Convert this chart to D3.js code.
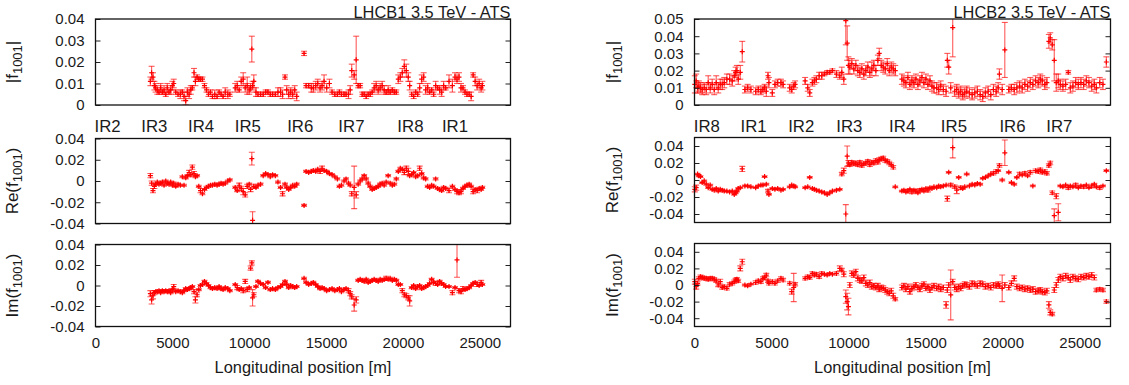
<!DOCTYPE html>
<html><head><meta charset="utf-8">
<script src="https://cdn.jsdelivr.net/npm/d3@7"></script>
<style>
body{margin:0;background:#fff}
svg{display:block}
text{font-family:"Liberation Sans",Arial,Helvetica,sans-serif;fill:#1a1a1a}
</style>
</head><body>
<svg id="chart" width="1129" height="385"></svg>
<script>
// ---------------- DATA ----------------
// Values and errors are in units of 1e-3; positions in metres.
const UNIT = 1e-3;

const b1_s = [
3570,3650,3740,3830,3910,4020,4130,4240,4350,4460,
4570,4670,4780,4890,5000,5090,5220,5370,5520,5650,
5760,5870,5980,6090,6200,6300,6410,6500,6610,6720,
6830,6960,7090,7220,7350,7480,7610,7760,7910,8040,
8170,8300,8440,8610,8740,9090,9220,9350,9480,9610,
9740,9870,10000,10090,10170,10220,10300,10440,10570,10740,
10910,11070,11220,11370,11520,11700,11870,12040,12170,12330,
12440,12570,12700,12830,12960,13090,13570,13700,13870,14040,
14170,14330,14460,14610,14740,14870,15040,15220,15390,15570,
15740,15870,16000,16170,16300,16460,16570,16670,16830,16960,
17090,17220,17350,17480,17610,17740,17870,18000,18130,18260,
18390,18520,18650,18780,18910,19040,19170,19310,19440,19570,
19700,19830,19960,20090,20220,20350,20440,20570,20700,20830,
20960,21090,21220,21350,21480,21610,21740,21870,22000,22130,
22260,22390,22520,22650,22780,23000,23220,23390,23520,23650,
23780,23910,24040,24170,24310,24440,24570,24700,24830,24960,
25090,25170];

const b1_abs = [
11,15,13,9,8,7,6,8,6,7,
5,8,6,7,9,10,6,5,5,6,
4,2,6,5,7,8,15,11,13,12,
12,12,9,7,5,6,4,5,4,6,
5,4,6,5,5,8,9,7,11,12,
8,9,7,8,26,9,11,6,5,5,
5,6,6,5,5,5,6,6,5,13,
7,5,6,5,7,4,24,9,9,8,
8,9,10,8,9,11,8,10,6,5,
5,6,5,5,5,5,7,16,14,21,
9,9,5,5,4,5,5,6,8,9,
7,8,9,7,6,7,6,7,6,6,
12,13,15,18,16,13,9,5,4,6,
5,8,12,13,7,8,6,7,5,9,
8,7,6,9,8,11,9,13,12,13,
8,8,6,5,5,4,14,11,9,10,
8,9];
const b1_abs_err = [
2,3,2,2,2,2,1,2,1,2,
1,2,1,2,2,2,1,1,2,1,
2,2,2,2,2,1,2,2,1,1,
1,1,1,1,1,1,1,2,1,1,
1,1,2,2,1,2,2,1,2,3,
2,4,2,2,6,2,3,2,1,1,
1,1,1,1,1,1,2,2,2,1,
2,2,2,2,2,2,1,1,1,2,
2,2,2,2,2,3,2,2,1,1,
1,1,1,1,1,2,2,3,2,11,
1,1,1,1,1,1,1,1,2,2,
2,2,2,2,1,2,1,1,1,1,
2,2,2,3,3,2,2,1,1,1,
1,2,2,2,2,2,1,1,1,2,
1,2,2,2,1,3,3,2,2,2,
2,1,1,1,1,2,1,2,2,2,
2,2];

const b1_re = [
5,-2,-9,-5,-3,-1,-3,-2,-1,-4,
0,-2,-3,-1,-4,-2,-5,-3,-4,4,
-4,3,5,8,6,13,7,4,5,-5,
-9,-12,-8,-6,-5,-4,-4,-3,-4,-3,
-2,-3,-2,0,1,-6,-9,-4,-7,-10,
-13,-5,-3,-8,21,-37,-5,-6,-4,-3,
5,7,6,4,6,5,-1,-6,-12,-3,
-6,-8,-6,-4,-5,-3,-23,9,8,9,
10,9,11,9,12,10,9,7,6,4,
2,-5,-4,0,2,-2,-4,-12,-6,-13,
-3,0,2,5,2,-2,-5,-8,-7,-6,
-5,-3,-2,-4,-1,5,-2,-4,-3,2,
9,12,11,8,12,9,5,6,8,4,
5,12,7,3,2,-5,-6,-4,-5,2,
-7,-8,-9,-6,-7,-9,-5,-8,-10,-11,
-10,-7,-5,-4,-3,-5,-10,-8,-9,-7,
-8,-6];
const b1_re_err = [
2,2,2,2,1,1,1,1,1,1,
1,1,1,1,1,1,1,1,1,1,
1,1,1,2,2,2,2,1,1,1,
2,1,1,1,1,1,1,1,1,1,
1,1,1,1,1,1,1,2,2,3,
2,2,1,2,6,8,2,1,1,1,
1,1,1,1,1,1,1,1,2,1,
1,1,1,1,1,1,1,1,1,1,
1,1,1,2,2,1,1,1,1,1,
1,1,1,1,1,1,1,2,20,3,
1,1,1,1,1,1,1,1,1,1,
1,1,1,1,1,1,1,1,1,1,
1,1,1,2,2,3,1,1,1,1,
1,2,1,1,1,1,1,1,1,1,
1,1,1,1,1,2,1,1,2,2,
2,1,1,1,1,1,2,1,2,1,
1,1];

const b1_im = [
-8,-14,-10,-7,-6,-6,-5,-7,-5,-6,
-5,-6,-5,-7,-4,-1,-6,-5,-6,-7,
-5,-3,-4,-3,-2,-1,-6,-14,-9,-4,
0,1,4,2,0,-2,-3,-2,-3,-1,
-3,-4,-2,-3,-5,1,-2,-4,-3,-5,
4,-4,-2,17,22,-12,-9,-1,4,2,
1,-2,3,-4,-3,-4,-2,-1,1,4,
1,-2,0,-1,-2,-1,7,3,1,2,
3,1,-1,-3,-2,-3,-5,-4,-3,-5,
-4,-3,-6,-4,-3,-5,-8,-11,-19,-14,
5,6,5,4,6,3,4,5,6,5,
4,6,5,6,7,6,7,5,6,5,
1,1,-5,-9,-10,-12,-15,-2,0,-3,
-1,0,-3,-2,-1,0,2,6,3,2,
1,4,2,1,-1,-1,-7,-2,25,-5,
-6,-3,-4,-3,-2,0,2,3,1,0,
3,1];
const b1_im_err = [
3,4,3,2,1,1,1,1,1,1,
1,1,1,1,1,2,1,1,1,1,
1,1,1,1,1,1,2,3,2,1,
1,1,1,1,1,1,1,1,1,1,
1,1,1,1,1,1,2,1,1,2,
2,2,1,2,2,8,2,1,1,1,
1,1,1,1,1,1,1,1,1,1,
1,1,1,1,1,1,1,1,1,1,
1,1,1,1,1,1,1,1,1,1,
1,1,1,1,1,2,2,2,6,3,
1,1,1,1,1,1,1,1,1,1,
1,1,1,1,2,1,1,1,1,1,
1,1,2,2,2,2,5,1,1,1,
1,1,1,1,1,1,1,1,1,2,
1,1,1,1,1,1,2,1,17,2,
2,2,1,1,1,1,1,1,2,1,
2,1];

const b2_s = [
20,110,200,280,390,500,630,760,890,1020,
1150,1280,1410,1540,1670,1800,1930,2100,2280,2450,
2580,2670,2750,2840,2970,3100,3270,3450,3660,3970,
4140,4310,4440,4550,4660,4770,4830,5050,5220,5400,
5610,5750,6180,6310,6440,6530,7180,7350,7480,7650,
7780,7910,8090,8260,8430,8610,8780,8950,9210,9430,
9560,9690,9820,9910,9990,10080,10210,10340,10470,10600,
10730,10860,10990,11120,11250,11380,11510,11640,11770,11900,
11990,12120,12250,12380,12510,12640,12770,12900,13030,13460,
13590,13720,13850,13980,14110,14240,14370,14500,14630,14760,
14890,15020,15150,15280,15410,15540,15720,15850,15980,16150,
16330,16410,16500,16630,16760,16890,17020,17150,17280,17410,
17540,17670,17840,18020,18190,18360,18540,18710,18880,19060,
19230,19400,19580,19710,19790,19970,20140,20400,20570,20750,
20920,21100,21270,21440,21620,21790,21960,22140,22310,22440,
22570,22740,22870,23000,23090,23220,23350,23480,23610,23740,
23910,24090,24260,24390,24560,24740,24910,25080,25260,25430,
25600,25780,25950,26080,26300,26510,26730];

const b2_abs = [
12,14,10,11,10,9,10,9,13,10,
12,9,13,10,12,12,13,15,15,14,
17,19,20,15,19,31,9,10,9,8,
9,8,9,10,8,17,13,7,12,13,
13,12,10,9,11,12,14,10,7,13,
14,15,17,17,18,19,19,20,18,17,
19,15,49,36,23,22,24,21,23,20,
19,21,18,20,22,19,21,23,20,26,
30,23,22,21,24,20,22,21,20,15,
14,13,16,12,14,13,15,12,14,16,
13,15,12,14,11,10,10,9,11,9,
8,26,22,10,45,8,9,7,8,6,
7,8,7,6,7,8,6,5,7,8,
6,9,8,10,18,9,32,9,10,9,
10,11,10,12,11,13,12,14,13,15,
14,12,13,37,39,35,26,13,14,12,
11,12,19,10,11,13,12,13,12,14,
13,11,12,10,13,12,25];
const b2_abs_err = [
5,4,3,3,3,3,3,3,4,3,
3,3,4,3,3,3,3,3,3,3,
3,3,3,3,4,6,2,2,2,2,
2,2,2,2,3,2,3,2,2,2,
2,2,2,2,2,2,2,2,2,2,
2,2,2,2,1,1,1,1,2,2,
3,3,14,10,5,4,3,3,3,3,
3,3,3,3,3,3,4,3,3,3,
3,3,3,3,3,3,3,3,3,3,
3,3,3,3,3,3,3,3,3,3,
3,3,3,3,3,3,3,3,3,3,
3,4,4,3,17,3,3,3,3,3,
3,3,3,3,3,3,3,3,3,3,
3,3,3,3,3,3,16,2,2,3,
3,3,3,3,3,3,3,3,3,3,
3,3,3,4,3,3,12,5,4,3,
3,3,1,3,3,3,3,3,3,3,
3,3,3,3,3,3,3];

const b2_re = [
-11,-9,7,5,4,-3,-1,-5,-9,-6,
-11,-12,-10,-13,-11,-12,-13,-13,-14,-13,
-17,-15,-13,-10,-9,13,-7,-7,-8,-9,
-7,-6,-6,4,-5,-13,-17,-10,-11,-10,
-12,-11,-8,-6,-7,-8,-9,-8,3,-10,
-11,-12,-13,-14,-15,-17,-15,-13,-12,-11,
7,11,-40,28,20,18,21,19,20,18,
21,17,19,20,22,18,21,20,23,21,
24,25,26,23,22,20,18,15,-8,-13,
-12,-14,-13,-11,-14,-12,-13,-15,-12,-11,
-13,-10,-12,-9,-10,-8,-9,-7,-8,-7,
-6,-22,9,-6,38,-8,-12,3,-9,-10,
-8,7,-7,-5,-6,-4,-5,2,3,5,
7,8,10,11,17,0,32,9,-3,-5,
3,7,6,8,5,9,-7,11,10,12,
9,10,8,17,20,-15,-42,-19,-38,-7,
-8,-6,-9,-7,-8,-6,-9,-7,-8,-6,
-9,-7,-5,-8,-9,-7,11];
const b2_re_err = [
3,3,1,1,1,1,1,1,1,1,
1,1,1,1,1,1,1,1,1,1,
1,1,1,1,1,3,1,1,1,1,
1,1,1,1,1,2,1,1,1,1,
1,1,1,1,1,1,1,1,1,1,
1,1,1,1,1,1,1,1,1,1,
2,3,11,12,3,2,2,2,2,2,
2,2,2,2,2,2,2,2,2,2,
2,2,2,2,2,2,2,2,1,1,
1,1,2,1,2,1,2,1,2,1,
1,1,2,1,1,1,1,1,1,1,
1,3,1,2,12,2,4,1,2,1,
1,1,1,1,1,1,1,1,1,1,
1,2,2,1,2,1,15,1,1,1,
1,2,1,2,1,2,1,2,2,2,
2,2,2,2,2,2,8,3,10,1,
1,1,2,1,1,2,1,1,2,1,
1,2,1,1,2,1,1];

const b2_im = [
4,-2,2,8,10,9,8,8,7,8,
8,7,5,0,4,-3,-2,-4,1,2,
4,6,7,5,20,28,0,-1,1,3,
5,4,8,9,12,5,2,4,2,5,
8,6,2,-8,-3,1,8,10,9,14,
12,13,10,14,13,12,14,13,14,20,
18,13,-14,-20,-26,0,14,12,16,8,
6,5,9,2,0,3,-2,-1,-3,-1,
-5,-3,-4,-6,-8,-10,-7,-13,-17,-3,
-1,-5,-2,-8,-4,-2,0,-3,-5,-1,
1,-4,-2,-6,-3,-1,-4,-2,-5,-3,
-24,-6,0,-12,4,-3,-5,-2,-4,-1,
1,0,-2,2,1,-1,2,1,-2,-1,
-3,0,-1,1,-1,-4,0,-3,2,8,
-2,-4,-3,-5,-4,-6,-5,-8,-7,-6,
-8,-9,-7,-24,-33,-35,-6,0,6,10,
8,11,9,6,10,8,7,10,9,11,
10,12,9,-6,-5,-6,-20];
const b2_im_err = [
3,3,2,2,2,2,2,2,2,2,
2,2,2,2,3,2,2,2,2,2,
2,2,2,2,3,3,1,1,1,2,
2,2,2,2,2,2,2,2,2,2,
2,2,2,3,17,2,2,2,2,2,
2,2,2,2,1,1,1,1,2,3,
2,3,8,10,10,3,3,3,3,3,
3,3,3,3,3,3,3,3,3,3,
3,3,3,3,3,3,3,3,2,3,
3,3,3,3,3,3,3,3,3,3,
3,3,3,3,3,3,3,3,3,3,
4,3,3,30,3,3,3,3,3,3,
3,3,3,3,3,3,3,3,3,3,
3,3,3,3,3,16,3,3,3,3,
3,3,3,3,3,3,3,3,3,3,
3,3,3,4,3,2,3,3,3,3,
3,3,3,3,3,3,3,3,3,3,
3,3,3,2,2,2,2];

// IR labels (position of label start, metres)
const b1_irNames = ["IR2","IR3","IR4","IR5","IR6","IR7","IR8","IR1"];
const b1_irPos   = [-60,2980,6020,9060,12470,15800,19640,22540];
const b2_irNames = ["IR8","IR1","IR2","IR3","IR4","IR5","IR6","IR7"];
const b2_irPos   = [-45,2990,6080,9200,12630,15990,19790,22830];

const xTicks = [0,5000,10000,15000,20000,25000];
const xDomain = [0,27000];
const ticksAbs1 = [0,0.01,0.02,0.03,0.04];
const ticksAbs2 = [0,0.01,0.02,0.03,0.04,0.05];
const ticksRI1 = [-0.04,-0.02,0,0.02,0.04];
const ticksRI2 = [-0.04,-0.02,0,0.02,0.04];

const titles = ["LHCB1 3.5 TeV - ATS","LHCB2 3.5 TeV - ATS"];
const xTitle = "Longitudinal position [m]";

// ---------------- LAYOUT ----------------
const svg = d3.select("#chart");
const RED = "#ff0000";

const cols = [
  {x0:95.5, x1:510.5, ylabX:18, s:b1_s, ir:[b1_irNames,b1_irPos], title:titles[0],
   rows:[
     {y0:19, y1:105, dom:[0,0.04], ticks:ticksAbs1, v:b1_abs, e:b1_abs_err, lab:["|f","1001","|"]},
     {y0:138.5, y1:223.5, dom:[-0.04,0.04], ticks:ticksRI1, v:b1_re, e:b1_re_err, lab:["Re(f","1001",")"]},
     {y0:244.5, y1:326.5, dom:[-0.04,0.04], ticks:ticksRI1, v:b1_im, e:b1_im_err, lab:["Im(f","1001",")"]}
   ]},
  {x0:694.5, x1:1110.5, ylabX:618, s:b2_s, ir:[b2_irNames,b2_irPos], title:titles[1],
   rows:[
     {y0:19, y1:105, dom:[0,0.05], ticks:ticksAbs2, v:b2_abs, e:b2_abs_err, lab:["|f","1001","|"]},
     {y0:137.5, y1:222.5, dom:[-0.05,0.05], ticks:ticksRI2, v:b2_re, e:b2_re_err, lab:["Re(f","1001",")"]},
     {y0:243.5, y1:326.5, dom:[-0.05,0.05], ticks:ticksRI2, v:b2_im, e:b2_im_err, lab:["Im(f","1001",")"]}
   ]}
];

const fmtY = v => Math.abs(v) < 1e-12 ? "0" : String(+v.toFixed(2));
const TICK = 5, FONT = 15, BIG = 16.8;

cols.forEach((c, ci) => {
  const x = d3.scaleLinear().domain(xDomain).range([c.x0, c.x1]);

  c.rows.forEach((r, ri) => {
    const y = d3.scaleLinear().domain(r.dom).range([r.y1, r.y0]);
    const g = svg.append("g");
    const clipId = `clip${ci}${ri}`;
    svg.append("clipPath").attr("id", clipId)
      .append("rect").attr("x", 0).attr("y", r.y0).attr("width", 1129).attr("height", r.y1 - r.y0);

    // data
    const data = c.s.map((s, i) => ({s, v: r.v[i]*UNIT, e: r.e[i]*UNIT}));
    const dg = g.append("g").attr("clip-path", `url(#${clipId})`);
    const pts = dg.selectAll("g.pt").data(data).join("g").attr("class","pt");
    pts.append("line")
      .attr("x1", d => x(d.s)).attr("x2", d => x(d.s))
      .attr("y1", d => y(d.v - d.e)).attr("y2", d => y(d.v + d.e))
      .attr("stroke", RED).attr("stroke-opacity", 0.65).attr("stroke-width", 1.1);
    [-1, 1].forEach(k => {
      pts.append("line")
        .attr("x1", d => x(d.s) - 3).attr("x2", d => x(d.s) + 3)
        .attr("y1", d => y(d.v + k*d.e)).attr("y2", d => y(d.v + k*d.e))
        .attr("stroke", RED).attr("stroke-opacity", 0.65).attr("stroke-width", 1.1);
    });
    pts.append("path")
      .attr("d", d => `M${x(d.s)-2.5},${y(d.v)}h5M${x(d.s)},${y(d.v)-2.5}v5`)
      .attr("stroke", RED).attr("stroke-width", 1.2).attr("fill", "none");

    // y axis left (ticks inside, labels outside)
    const ax = g.append("g").attr("transform", `translate(${c.x0},0)`)
      .call(d3.axisLeft(y).tickValues(r.ticks).tickFormat(fmtY).tickSizeInner(-TICK).tickSizeOuter(0).tickPadding(11));
    ax.select(".domain").remove();
    ax.selectAll("line").attr("stroke", "#222");
    ax.selectAll("text").attr("font-size", FONT).attr("fill", "#1a1a1a")
      .style("font-family", '"Liberation Sans",Arial,sans-serif');
    // mirrored right ticks
    const axr = g.append("g").attr("transform", `translate(${c.x1},0)`)
      .call(d3.axisRight(y).tickValues(r.ticks).tickFormat("").tickSizeInner(-TICK).tickSizeOuter(0));
    axr.select(".domain").remove();
    axr.selectAll("line").attr("stroke", "#222");

    // frame
    g.append("rect").attr("x", c.x0).attr("y", r.y0)
      .attr("width", c.x1 - c.x0).attr("height", r.y1 - r.y0)
      .attr("fill", "none").attr("stroke", "#111").attr("stroke-width", 1.3);

    // y label
    const yc = (r.y0 + r.y1) / 2;
    const t = g.append("text").attr("transform", `translate(${c.ylabX},${yc}) rotate(-90)`)
      .attr("text-anchor", "middle").attr("font-size", 17);
    t.append("tspan").text(r.lab[0]);
    t.append("tspan").attr("font-size", 13).attr("dy", 4).text(r.lab[1]);
    t.append("tspan").attr("dy", -4).text(r.lab[2]);

    // x axis only on bottom panel
    if (ri === 2) {
      const axb = g.append("g").attr("transform", `translate(0,${r.y1})`)
        .call(d3.axisBottom(x).tickValues(xTicks).tickFormat(d3.format("d")).tickSize(0).tickPadding(11));
      axb.select(".domain").remove();
      axb.selectAll("text").attr("font-size", FONT).attr("fill", "#1a1a1a")
        .style("font-family", '"Liberation Sans",Arial,sans-serif');
      svg.append("text").attr("x", (c.x0 + c.x1)/2).attr("y", 373)
        .attr("text-anchor", "middle").attr("font-size", 16.4).text(xTitle);
    }
  });

  // IR labels between top and middle panel
  svg.append("g").selectAll("text").data(c.ir[0]).join("text")
    .attr("x", (d, i) => x(c.ir[1][i])).attr("y", 131.5)
    .attr("font-size", BIG).text(d => d);

  // title
  svg.append("text").attr("x", c.x1).attr("y", 18).attr("text-anchor", "end")
    .attr("font-size", 16.4).text(c.title);
});
</script>
</body></html>
